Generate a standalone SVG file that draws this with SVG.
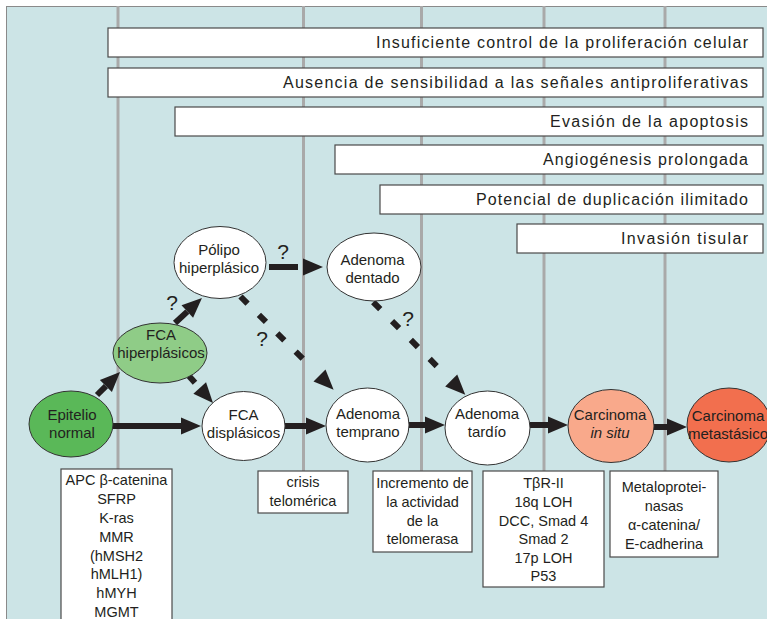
<svg xmlns="http://www.w3.org/2000/svg" width="767" height="619" viewBox="0 0 767 619">
<style>
.bg{fill:#cce4e6;stroke:#8a8a8a;stroke-width:1}
.vl{stroke:#a9a9a9;stroke-width:3;fill:none}
.bar{fill:#ffffff;stroke:#4a4a4a;stroke-width:1.2}
.bt{font-family:"Liberation Sans",Arial,sans-serif;font-size:16px;fill:#231f20;text-anchor:end}
.nd{stroke:#333333;stroke-width:1}
.nt{font-family:"Liberation Sans",Arial,sans-serif;font-size:15px;fill:#231f20;text-anchor:middle}
.box{fill:#ffffff;stroke:#4a4a4a;stroke-width:1.2}
.xt{font-family:"Liberation Sans",Arial,sans-serif;font-size:14.5px;fill:#231f20;text-anchor:middle}
.q{font-family:"Liberation Sans",Arial,sans-serif;font-size:21px;fill:#231f20;text-anchor:middle}
.ar{stroke:#231f20;stroke-width:6;fill:none;marker-end:url(#ah)}
</style>
<defs>
<marker id="ah" markerUnits="userSpaceOnUse" markerWidth="20" markerHeight="17" refX="0" refY="8.5" orient="auto" viewBox="0 0 20 17" overflow="visible"><path d="M0,0 L20,8.5 L0,17 Z" fill="#231f20"/></marker>
</defs>
<rect class="bg" x="6.5" y="6.5" width="770" height="620"/>
<g id="guides">
<line class="vl" x1="118" y1="6" x2="118" y2="469"/>
<line class="vl" x1="303.5" y1="6" x2="303.5" y2="471"/>
<line class="vl" x1="421.5" y1="6" x2="421.5" y2="471"/>
<line class="vl" x1="544" y1="6" x2="544" y2="471"/>
<line class="vl" x1="665" y1="6" x2="665" y2="471"/>
</g>
<g id="bars">
<g id="bar1"><rect class="bar" x="108" y="28" width="655" height="29"/><text class="bt" x="748" y="47.5" textLength="372" lengthAdjust="spacing">Insuficiente control de la proliferación celular</text></g>
<g id="bar2"><rect class="bar" x="108" y="68" width="655" height="29"/><text class="bt" x="748" y="87.5" textLength="465" lengthAdjust="spacing">Ausencia de sensibilidad a las señales antiproliferativas</text></g>
<g id="bar3"><rect class="bar" x="175" y="107" width="588" height="29"/><text class="bt" x="748" y="126.5" textLength="198" lengthAdjust="spacing">Evasión de la apoptosis</text></g>
<g id="bar4"><rect class="bar" x="335" y="145" width="428" height="29"/><text class="bt" x="748" y="164.5" textLength="205" lengthAdjust="spacing">Angiogénesis prolongada</text></g>
<g id="bar5"><rect class="bar" x="380" y="185" width="383" height="29"/><text class="bt" x="748" y="204.5" textLength="272" lengthAdjust="spacing">Potencial de duplicación ilimitado</text></g>
<g id="bar6"><rect class="bar" x="517" y="224" width="246" height="29"/><text class="bt" x="748" y="243.5" textLength="127" lengthAdjust="spacing">Invasión tisular</text></g>
</g>
<g id="connectors">
<path class="ar" d="M113,426 L181,426"/>
<path class="ar" d="M285,426 L306,426"/>
<path class="ar" d="M409,425 L425,425"/>
<path class="ar" d="M530,425 L548,425"/>
<path class="ar" d="M654,427 L667,427"/>
<path class="ar" d="M97,395 L105.9,386.1"/>
<path class="ar" d="M175,323 L187.3,311.6"/>
<path class="ar" d="M189,376 L199.7,388" stroke-dasharray="9 20"/>
<path class="ar" d="M269,267 L303,267" stroke-dasharray="29 20"/>
<path class="ar" d="M240.5,296.5 L319.5,375.5" stroke-dasharray="10 16 10 16 10 16 10 40"/>
<path class="ar" d="M373.2,302.1 L451.2,380.6" stroke-dasharray="10 16.7 10 16.7 10 16.7 10 40"/>
<text class="q" x="283" y="258.5">?</text>
<text class="q" x="172" y="309.5">?</text>
<text class="q" x="262" y="345.5">?</text>
<text class="q" x="408" y="325.5">?</text>
</g>
<g id="epitelio"><ellipse class="nd" cx="71" cy="424" rx="42" ry="33" fill="#5ab858"/><text class="nt" x="72" y="420">Epitelio</text><text class="nt" x="72" y="438">normal</text></g>
<g id="fca-hiper"><ellipse class="nd" cx="160" cy="353" rx="47" ry="30" fill="#8fcc87"/><text class="nt" x="161" y="340">FCA</text><text class="nt" x="161" y="358">hiperplásicos</text></g>
<g id="polipo"><ellipse class="nd" cx="220" cy="262.5" rx="46" ry="36" fill="#ffffff"/><text class="nt" x="219" y="255">Pólipo</text><text class="nt" x="219" y="273">hiperplásico</text></g>
<g id="dentado"><ellipse class="nd" cx="374" cy="267" rx="47" ry="34" fill="#ffffff"/><text class="nt" x="372.5" y="265">Adenoma</text><text class="nt" x="372.5" y="283">dentado</text></g>
<g id="fca-displ"><ellipse class="nd" cx="243.5" cy="426" rx="41.5" ry="34.5" fill="#ffffff"/><text class="nt" x="243.5" y="420">FCA</text><text class="nt" x="243.5" y="438">displásicos</text></g>
<g id="temprano"><ellipse class="nd" cx="367.5" cy="425" rx="41.5" ry="37" fill="#ffffff"/><text class="nt" x="368" y="419">Adenoma</text><text class="nt" x="368" y="437">temprano</text></g>
<g id="tardio"><ellipse class="nd" cx="487.5" cy="428" rx="42.5" ry="37" fill="#ffffff"/><text class="nt" x="487" y="419">Adenoma</text><text class="nt" x="487" y="437">tardío</text></g>
<g id="insitu"><ellipse class="nd" cx="611" cy="426" rx="43" ry="36.5" fill="#f9a98b"/><text class="nt" x="610" y="420">Carcinoma</text><text class="nt" x="610" y="438" font-style="italic">in situ</text></g>
<g id="metastasico"><ellipse class="nd" cx="729" cy="425" rx="42" ry="37" fill="#f26f4e"/><text class="nt" x="728" y="421">Carcinoma</text><text class="nt" x="728" y="439">metastásico</text></g>
<g id="box-apc"><rect class="box" x="61" y="469" width="111" height="160"/>
<text class="xt" x="116.5" y="485">APC β-catenina</text><text class="xt" x="116.5" y="504">SFRP</text><text class="xt" x="116.5" y="523">K-ras</text><text class="xt" x="116.5" y="541.5">MMR</text><text class="xt" x="116.5" y="560.5">(hMSH2</text><text class="xt" x="116.5" y="579">hMLH1)</text><text class="xt" x="116.5" y="598">hMYH</text><text class="xt" x="116.5" y="617">MGMT</text></g>
<g id="box-crisis"><rect class="box" x="258" y="471" width="90" height="42"/><text class="xt" x="303" y="487">crisis</text><text class="xt" x="303" y="506">telomérica</text></g>
<g id="box-incremento"><rect class="box" x="373" y="471" width="99" height="81"/><text class="xt" x="422.5" y="488">Incremento de</text><text class="xt" x="422.5" y="507">la actividad</text><text class="xt" x="422.5" y="525.5">de la</text><text class="xt" x="422.5" y="544">telomerasa</text></g>
<g id="box-tbr"><rect class="box" x="483" y="471" width="121" height="116"/><text class="xt" x="543.5" y="488">TβR-II</text><text class="xt" x="543.5" y="507">18q LOH</text><text class="xt" x="543.5" y="525.5">DCC, Smad 4</text><text class="xt" x="543.5" y="544">Smad 2</text><text class="xt" x="543.5" y="562.5">17p LOH</text><text class="xt" x="543.5" y="581">P53</text></g>
<g id="box-metalo"><rect class="box" x="610" y="471" width="108" height="86"/><text class="xt" x="664" y="491.5">Metaloprotei-</text><text class="xt" x="664" y="510.5">nasas</text><text class="xt" x="664" y="529.5">α-catenina/</text><text class="xt" x="664" y="548.5">E-cadherina</text></g>
</svg>
